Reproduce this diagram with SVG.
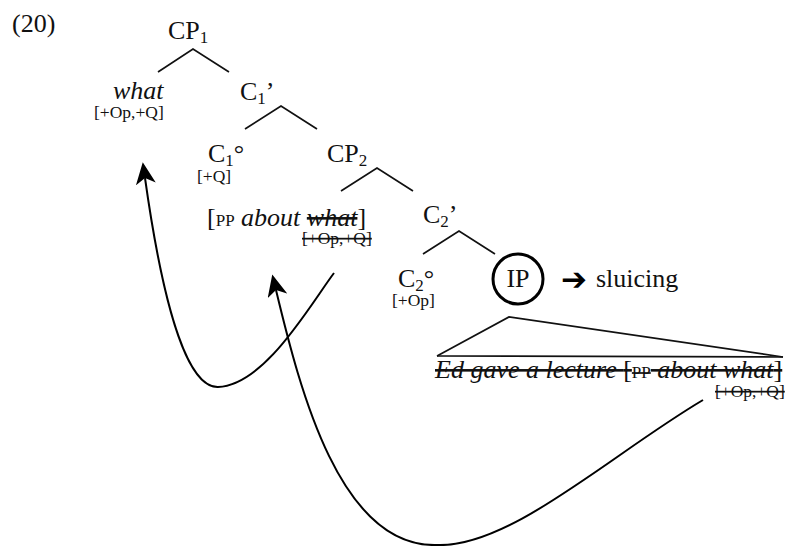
<svg xmlns="http://www.w3.org/2000/svg" width="787" height="546" viewBox="0 0 787 546">
<style>
text{font-family:"Liberation Serif","Times New Roman",serif;fill:#111;}
.l{font-size:26px;}
.it{font-style:italic;}
.up{font-style:normal;}
.sub{font-size:17px;}
.ft{font-size:17.5px;}
.pp{font-size:17px;font-style:normal;}
.st{text-decoration:line-through;}
.tree line,.tree polyline{stroke:#111;stroke-width:1.7;fill:none;}
.mv{stroke:#000;stroke-width:2;fill:none;}
</style>
<defs>
<marker id="ah" viewBox="0 0 22 20" refX="6" refY="10" markerWidth="22" markerHeight="20" markerUnits="userSpaceOnUse" orient="auto">
<path d="M22,10 L0,0 L6,10 L0,20 Z" fill="#000"/>
</marker>
</defs>
<text id="ex" class="l" x="12" y="32">(20)</text>
<g id="connectors">
<g class="tree">
<polyline points="158,72 193,49 229,72"/>
<polyline points="245,129 281,106 317,129"/>
<polyline points="341,191 377,168 413,191"/>
<polyline points="423,254 459,231 495,254"/>
<polyline points="437,356 509,317 783,357"/>
<line x1="437" y1="356" x2="783" y2="357"/>
</g>
<path class="mv" d="M334,273 C310,305 265,385 218,387 C190,388 165,320 145,178" marker-end="url(#ah)"/>
<path class="mv" d="M703,400 C610,455 510,548 437,545 C340,548 300,390 276,290" marker-end="url(#ah)"/>
</g>
<g id="CP1"><text class="l" x="168" y="39">CP<tspan class="sub" dy="4">1</tspan></text></g>
<g id="what"><text class="l it" x="113" y="99">what</text><text class="ft" x="94" y="118">[+Op,+Q]</text></g>
<g id="C1bar"><text class="l" x="240" y="100">C<tspan class="sub" dy="4">1</tspan><tspan dy="-4">’</tspan></text></g>
<g id="C1head"><text class="l" x="208" y="162">C<tspan class="sub" dy="4">1</tspan><tspan dy="-4">°</tspan></text><text class="ft" x="197" y="182">[+Q]</text></g>
<g id="CP2"><text class="l" x="327" y="162">CP<tspan class="sub" dy="4">2</tspan></text></g>
<g id="PP"><text class="l" x="207" y="226">[<tspan class="pp">PP</tspan> <tspan class="it">about</tspan> <tspan class="it st">what</tspan>]</text><text class="ft st" x="302" y="244">[+Op,+Q]</text></g>
<g id="C2bar"><text class="l" x="423" y="223">C<tspan class="sub" dy="4">2</tspan><tspan dy="-4">’</tspan></text></g>
<g id="C2head"><text class="l" x="398" y="287">C<tspan class="sub" dy="4">2</tspan><tspan dy="-4">°</tspan></text><text class="ft" x="392" y="306">[+Op]</text></g>
<g id="IP"><circle cx="518" cy="279" r="25" fill="none" stroke="#000" stroke-width="3"/><text class="l" x="518" y="287" text-anchor="middle">IP</text></g>
<g id="sluicing"><text x="561" y="290" style="font-family:'DejaVu Sans',sans-serif;font-size:31px;fill:#000">➔</text><text class="l" x="596" y="287">sluicing</text></g>
<g id="sentence"><text class="l it st" x="435" y="378">Ed gave a lecture <tspan class="up">[</tspan><tspan class="pp">PP</tspan> about what<tspan class="up">]</tspan></text><text class="ft st" x="715" y="397">[+Op,+Q]</text></g>
</svg>
